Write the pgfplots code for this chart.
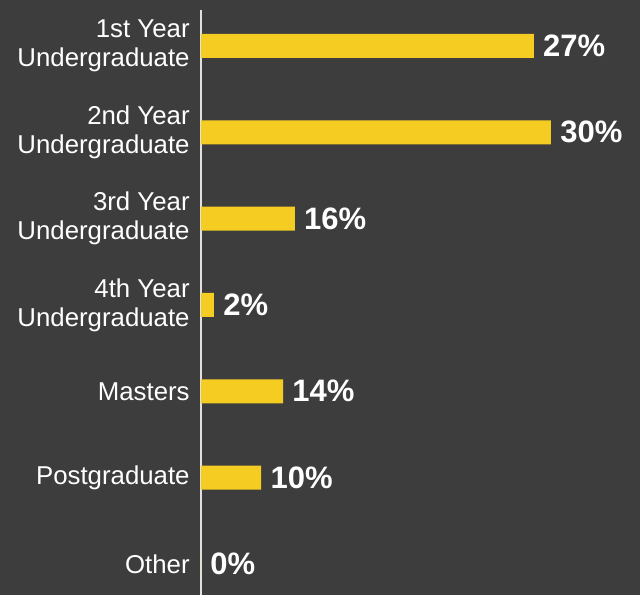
\documentclass[border=0pt]{standalone}
\usepackage{fontspec}
\setmainfont{Liberation Sans}
\usepackage{pgfplots}
\pgfplotsset{compat=1.18}
\definecolor{bg}{RGB}{61,61,61}
\definecolor{baryellow}{RGB}{244,204,34}
\definecolor{axline}{RGB}{225,225,225}

\begin{document}
\begin{tikzpicture}
% dark backdrop, 640x595 px at 0.5pt per px
\fill[bg] (-100.5pt,0) rectangle (219.5pt,297.5pt);
\begin{axis}[
  at={(0,0)}, anchor=south west,
  scale only axis,
  width=219.5pt, height=292.5pt,
  xbar, bar width=12pt,
  xmin=0, xmax=74.4,
  ymin=-0.417, ymax=6.36,
  y dir=reverse,
  axis x line=none,
  axis y line*=left,
  y axis line style={draw=axline, line width=0.8pt},
  ytick={0,1,2,3,4,5,6},
  yticklabels={{1st Year\\Undergraduate},{2nd Year\\Undergraduate},{3rd Year\\Undergraduate},{4th Year\\Undergraduate},Masters,Postgraduate,Other},
  major tick length=0pt,
  ytick style={draw=none},
  yticklabel style={align=right, text=white, inner sep=0pt, xshift=-5.5pt,
    font=\fontsize{12.9}{14.5}\selectfont},
  point meta=explicit symbolic,
  nodes near coords,
  nodes near coords style={anchor=west, text=white, inner sep=0pt, xshift=4.5pt,
    font=\bfseries\fontsize{15.5}{18}\selectfont},
  clip=false,
]
% bar lengths as drawn in the reference; labels are the shown percentages
\addplot[fill=baryellow, draw=none] coordinates {
  (56.4,0) [27\%]
  (59.3,1) [30\%]
  (15.9,2) [16\%]
  (2.2,3)  [2\%]
  (13.9,4) [14\%]
  (10.2,5) [10\%]
  (0,6)    [0\%]
};
\end{axis}
\pgfresetboundingbox
\useasboundingbox (-100.5pt,0) rectangle (219.5pt,297.5pt);
\end{tikzpicture}
\end{document}
